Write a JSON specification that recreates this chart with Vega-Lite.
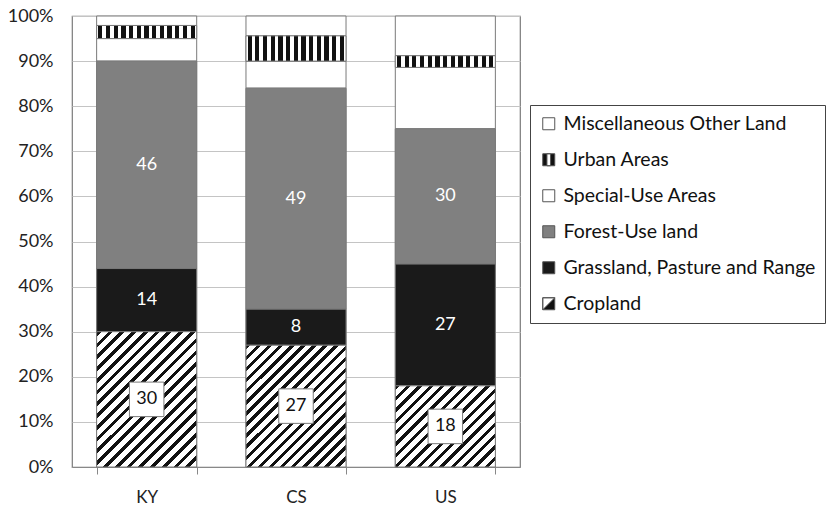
{
  "$schema": "https://vega.github.io/schema/vega-lite/v6.json",
  "width": 448,
  "height": 451,
  "autosize": "none",
  "padding": {"left": 72, "top": 16, "right": 310, "bottom": 38},
  "background": "white",
  "config": {"font": "Lato", "view": {"stroke": "#7a7a7a", "strokeWidth": 1.2}, "axisY": {"labelPadding": 19}},
  "data": {"values": [
    {"site": "KY", "type": "Cropland", "order": 1, "value": 30},
    {"site": "KY", "type": "Grassland, Pasture and Range", "order": 2, "value": 14},
    {"site": "KY", "type": "Forest-Use land", "order": 3, "value": 46},
    {"site": "KY", "type": "Special-Use Areas", "order": 4, "value": 5},
    {"site": "KY", "type": "Urban Areas", "order": 5, "value": 2.9},
    {"site": "KY", "type": "Miscellaneous Other Land", "order": 6, "value": 2.1},
    {"site": "CS", "type": "Cropland", "order": 1, "value": 27},
    {"site": "CS", "type": "Grassland, Pasture and Range", "order": 2, "value": 8},
    {"site": "CS", "type": "Forest-Use land", "order": 3, "value": 49},
    {"site": "CS", "type": "Special-Use Areas", "order": 4, "value": 6},
    {"site": "CS", "type": "Urban Areas", "order": 5, "value": 5.6},
    {"site": "CS", "type": "Miscellaneous Other Land", "order": 6, "value": 4.4},
    {"site": "US", "type": "Cropland", "order": 1, "value": 18},
    {"site": "US", "type": "Grassland, Pasture and Range", "order": 2, "value": 27},
    {"site": "US", "type": "Forest-Use land", "order": 3, "value": 30},
    {"site": "US", "type": "Special-Use Areas", "order": 4, "value": 13.6},
    {"site": "US", "type": "Urban Areas", "order": 5, "value": 2.6},
    {"site": "US", "type": "Miscellaneous Other Land", "order": 6, "value": 8.8}
  ]},
  "transform": [
    {"stack": "value", "groupby": ["site"], "sort": [{"field": "order", "order": "ascending"}], "as": ["v0", "v1"]}
  ],
  "encoding": {
    "x": {
      "field": "site", "type": "nominal", "sort": ["KY", "CS", "US"],
      "scale": {"paddingInner": 0.33, "paddingOuter": 0.165},
      "axis": {"title": null, "labelAngle": 0, "labelFontSize": 17, "labelColor": "#222", "tickBand": "extent", "tickSize": 7, "tickColor": "#888", "domainColor": "#888", "labelPadding": 15, "grid": false}
    }
  },
  "layer": [
    {
      "transform": [
        {"fold": ["v0", "v1"], "as": ["edge", "pos"]},
        {"aggregate": [{"op": "mean", "field": "pos", "as": "mid"}], "groupby": ["site", "type", "value"]}
      ],
      "mark": {"type": "point", "filled": true, "size": 144, "strokeWidth": 1, "opacity": 1, "clip": true},
      "encoding": {
        "y": {"field": "mid", "type": "quantitative", "scale": {"domain": [0, 100], "nice": false},
          "axis": {"title": null, "values": [0, 10, 20, 30, 40, 50, 60, 70, 80, 90, 100], "labelExpr": "datum.value + '%'", "labelFontSize": 18, "labelColor": "#222", "ticks": false, "domain": false, "gridColor": "#c4c4c4", "labelPadding": 19}},
        "fill": {
          "field": "type", "type": "nominal",
          "scale": {
            "domain": ["Miscellaneous Other Land", "Urban Areas", "Special-Use Areas", "Forest-Use land", "Grassland, Pasture and Range", "Cropland"],
            "range": ["#ffffff", "#111111", "#ffffff", "#808080", "#1a1a1a", "#111111"]
          },
          "legend": {
            "title": null, "orient": "none", "legendX": 458, "legendY": 89,
            "symbolSize": 144, "symbolStrokeWidth": 1,
            "labelFontSize": 19.5, "labelColor": "#111", "rowPadding": 15, "padding": 9,
            "strokeColor": "#444", "fillColor": "white", "labelOffset": 5, "labelLimit": 400,
            "labelExpr": "datum.label + '\u00a0\u00a0\u00a0\u00a0\u00a0\u00a0\u00a0\u00a0\u00a0\u00a0\u00a0'"
          }
        },
        "stroke": {
          "field": "type", "type": "nominal",
          "scale": {
            "domain": ["Miscellaneous Other Land", "Urban Areas", "Special-Use Areas", "Forest-Use land", "Grassland, Pasture and Range", "Cropland"],
            "range": ["#555555", "#555555", "#555555", "#555555", "#555555", "#555555"]
          },
          "legend": {
            "title": null, "orient": "none", "legendX": 458, "legendY": 89,
            "symbolSize": 144, "symbolStrokeWidth": 1,
            "labelFontSize": 19.5, "labelColor": "#111", "rowPadding": 15, "padding": 9,
            "strokeColor": "#444", "fillColor": "white", "labelOffset": 5, "labelLimit": 400,
            "labelExpr": "datum.label + '\u00a0\u00a0\u00a0\u00a0\u00a0\u00a0\u00a0\u00a0\u00a0\u00a0\u00a0'"
          }
        },
        "shape": {
          "field": "type", "type": "nominal",
          "scale": {
            "domain": ["Miscellaneous Other Land", "Urban Areas", "Special-Use Areas", "Forest-Use land", "Grassland, Pasture and Range", "Cropland"],
            "range": ["square", "M-1,-1L1,-1L1,1L-1,1ZM-0.3,-1L-0.3,1L0.3,1L0.3,-1Z", "square", "square", "square", "M-1,-1L1,-1L1,1L-1,1ZM-1,-1L-1,1L1,-1Z"]
          },
          "legend": {
            "title": null, "orient": "none", "legendX": 458, "legendY": 89,
            "symbolSize": 144, "symbolStrokeWidth": 1,
            "labelFontSize": 19.5, "labelColor": "#111", "rowPadding": 15, "padding": 9,
            "strokeColor": "#444", "fillColor": "white", "labelOffset": 5, "labelLimit": 400,
            "labelExpr": "datum.label + '\u00a0\u00a0\u00a0\u00a0\u00a0\u00a0\u00a0\u00a0\u00a0\u00a0\u00a0'"
          }
        }
      }
    },
    {
      "mark": {"type": "bar", "stroke": "#7a7a7a", "strokeWidth": 1, "fill": "#ffffff"},
      "encoding": {"y": {"field": "v1", "type": "quantitative"}, "y2": {"field": "v0"}}
    },
    {
      "transform": [{"filter": "datum.type === 'Forest-Use land'"}],
      "mark": {"type": "bar", "stroke": "#7a7a7a", "strokeWidth": 1, "fill": "#808080"},
      "encoding": {"y": {"field": "v1", "type": "quantitative"}, "y2": {"field": "v0"}}
    },
    {
      "transform": [{"filter": "datum.type === 'Grassland, Pasture and Range'"}],
      "mark": {"type": "bar", "stroke": "#7a7a7a", "strokeWidth": 1, "fill": "#1a1a1a"},
      "encoding": {"y": {"field": "v1", "type": "quantitative"}, "y2": {"field": "v0"}}
    },
    {
      "transform": [{"filter": "datum.type === 'Cropland' && datum.site === 'KY'"}],
      "mark": {"type": "bar", "stroke": "#7a7a7a", "strokeWidth": 1,
        "fill": {"gradient": "linear", "x1": 0, "y1": 0, "x2": 0.8313, "y2": 1.1247, "stops": [
          {"offset": 0, "color": "#111"}, {"offset": 0.02, "color": "#111"}, {"offset": 0.02, "color": "#fff"}, {"offset": 0.05, "color": "#fff"},
          {"offset": 0.05, "color": "#111"}, {"offset": 0.07, "color": "#111"}, {"offset": 0.07, "color": "#fff"}, {"offset": 0.1, "color": "#fff"},
          {"offset": 0.1, "color": "#111"}, {"offset": 0.12, "color": "#111"}, {"offset": 0.12, "color": "#fff"}, {"offset": 0.15, "color": "#fff"},
          {"offset": 0.15, "color": "#111"}, {"offset": 0.17, "color": "#111"}, {"offset": 0.17, "color": "#fff"}, {"offset": 0.2, "color": "#fff"},
          {"offset": 0.2, "color": "#111"}, {"offset": 0.22, "color": "#111"}, {"offset": 0.22, "color": "#fff"}, {"offset": 0.25, "color": "#fff"},
          {"offset": 0.25, "color": "#111"}, {"offset": 0.27, "color": "#111"}, {"offset": 0.27, "color": "#fff"}, {"offset": 0.3, "color": "#fff"},
          {"offset": 0.3, "color": "#111"}, {"offset": 0.32, "color": "#111"}, {"offset": 0.32, "color": "#fff"}, {"offset": 0.35, "color": "#fff"},
          {"offset": 0.35, "color": "#111"}, {"offset": 0.37, "color": "#111"}, {"offset": 0.37, "color": "#fff"}, {"offset": 0.4, "color": "#fff"},
          {"offset": 0.4, "color": "#111"}, {"offset": 0.42, "color": "#111"}, {"offset": 0.42, "color": "#fff"}, {"offset": 0.45, "color": "#fff"},
          {"offset": 0.45, "color": "#111"}, {"offset": 0.47, "color": "#111"}, {"offset": 0.47, "color": "#fff"}, {"offset": 0.5, "color": "#fff"},
          {"offset": 0.5, "color": "#111"}, {"offset": 0.52, "color": "#111"}, {"offset": 0.52, "color": "#fff"}, {"offset": 0.55, "color": "#fff"},
          {"offset": 0.55, "color": "#111"}, {"offset": 0.57, "color": "#111"}, {"offset": 0.57, "color": "#fff"}, {"offset": 0.6, "color": "#fff"},
          {"offset": 0.6, "color": "#111"}, {"offset": 0.62, "color": "#111"}, {"offset": 0.62, "color": "#fff"}, {"offset": 0.65, "color": "#fff"},
          {"offset": 0.65, "color": "#111"}, {"offset": 0.67, "color": "#111"}, {"offset": 0.67, "color": "#fff"}, {"offset": 0.7, "color": "#fff"},
          {"offset": 0.7, "color": "#111"}, {"offset": 0.72, "color": "#111"}, {"offset": 0.72, "color": "#fff"}, {"offset": 0.75, "color": "#fff"},
          {"offset": 0.75, "color": "#111"}, {"offset": 0.77, "color": "#111"}, {"offset": 0.77, "color": "#fff"}, {"offset": 0.8, "color": "#fff"},
          {"offset": 0.8, "color": "#111"}, {"offset": 0.82, "color": "#111"}, {"offset": 0.82, "color": "#fff"}, {"offset": 0.85, "color": "#fff"},
          {"offset": 0.85, "color": "#111"}, {"offset": 0.87, "color": "#111"}, {"offset": 0.87, "color": "#fff"}, {"offset": 0.9, "color": "#fff"},
          {"offset": 0.9, "color": "#111"}, {"offset": 0.92, "color": "#111"}, {"offset": 0.92, "color": "#fff"}, {"offset": 0.95, "color": "#fff"},
          {"offset": 0.95, "color": "#111"}, {"offset": 0.97, "color": "#111"}, {"offset": 0.97, "color": "#fff"}, {"offset": 1, "color": "#fff"}
        ]}},
      "encoding": {"y": {"field": "v1", "type": "quantitative"}, "y2": {"field": "v0"}}
    },
    {
      "transform": [{"filter": "datum.type === 'Cropland' && datum.site === 'CS'"}],
      "mark": {"type": "bar", "stroke": "#7a7a7a", "strokeWidth": 1,
        "fill": {"gradient": "linear", "x1": 0, "y1": 0, "x2": 0.8931, "y2": 1.0878, "stops": [
          {"offset": 0, "color": "#111"}, {"offset": 0.02, "color": "#111"}, {"offset": 0.02, "color": "#fff"}, {"offset": 0.05, "color": "#fff"},
          {"offset": 0.05, "color": "#111"}, {"offset": 0.07, "color": "#111"}, {"offset": 0.07, "color": "#fff"}, {"offset": 0.1, "color": "#fff"},
          {"offset": 0.1, "color": "#111"}, {"offset": 0.12, "color": "#111"}, {"offset": 0.12, "color": "#fff"}, {"offset": 0.15, "color": "#fff"},
          {"offset": 0.15, "color": "#111"}, {"offset": 0.17, "color": "#111"}, {"offset": 0.17, "color": "#fff"}, {"offset": 0.2, "color": "#fff"},
          {"offset": 0.2, "color": "#111"}, {"offset": 0.22, "color": "#111"}, {"offset": 0.22, "color": "#fff"}, {"offset": 0.25, "color": "#fff"},
          {"offset": 0.25, "color": "#111"}, {"offset": 0.27, "color": "#111"}, {"offset": 0.27, "color": "#fff"}, {"offset": 0.3, "color": "#fff"},
          {"offset": 0.3, "color": "#111"}, {"offset": 0.32, "color": "#111"}, {"offset": 0.32, "color": "#fff"}, {"offset": 0.35, "color": "#fff"},
          {"offset": 0.35, "color": "#111"}, {"offset": 0.37, "color": "#111"}, {"offset": 0.37, "color": "#fff"}, {"offset": 0.4, "color": "#fff"},
          {"offset": 0.4, "color": "#111"}, {"offset": 0.42, "color": "#111"}, {"offset": 0.42, "color": "#fff"}, {"offset": 0.45, "color": "#fff"},
          {"offset": 0.45, "color": "#111"}, {"offset": 0.47, "color": "#111"}, {"offset": 0.47, "color": "#fff"}, {"offset": 0.5, "color": "#fff"},
          {"offset": 0.5, "color": "#111"}, {"offset": 0.52, "color": "#111"}, {"offset": 0.52, "color": "#fff"}, {"offset": 0.55, "color": "#fff"},
          {"offset": 0.55, "color": "#111"}, {"offset": 0.57, "color": "#111"}, {"offset": 0.57, "color": "#fff"}, {"offset": 0.6, "color": "#fff"},
          {"offset": 0.6, "color": "#111"}, {"offset": 0.62, "color": "#111"}, {"offset": 0.62, "color": "#fff"}, {"offset": 0.65, "color": "#fff"},
          {"offset": 0.65, "color": "#111"}, {"offset": 0.67, "color": "#111"}, {"offset": 0.67, "color": "#fff"}, {"offset": 0.7, "color": "#fff"},
          {"offset": 0.7, "color": "#111"}, {"offset": 0.72, "color": "#111"}, {"offset": 0.72, "color": "#fff"}, {"offset": 0.75, "color": "#fff"},
          {"offset": 0.75, "color": "#111"}, {"offset": 0.77, "color": "#111"}, {"offset": 0.77, "color": "#fff"}, {"offset": 0.8, "color": "#fff"},
          {"offset": 0.8, "color": "#111"}, {"offset": 0.82, "color": "#111"}, {"offset": 0.82, "color": "#fff"}, {"offset": 0.85, "color": "#fff"},
          {"offset": 0.85, "color": "#111"}, {"offset": 0.87, "color": "#111"}, {"offset": 0.87, "color": "#fff"}, {"offset": 0.9, "color": "#fff"},
          {"offset": 0.9, "color": "#111"}, {"offset": 0.92, "color": "#111"}, {"offset": 0.92, "color": "#fff"}, {"offset": 0.95, "color": "#fff"},
          {"offset": 0.95, "color": "#111"}, {"offset": 0.97, "color": "#111"}, {"offset": 0.97, "color": "#fff"}, {"offset": 1, "color": "#fff"}
        ]}},
      "encoding": {"y": {"field": "v1", "type": "quantitative"}, "y2": {"field": "v0"}}
    },
    {
      "transform": [{"filter": "datum.type === 'Cropland' && datum.site === 'US'"}],
      "mark": {"type": "bar", "stroke": "#7a7a7a", "strokeWidth": 1,
        "fill": {"gradient": "linear", "x1": 0, "y1": 0, "x2": 1.092, "y2": 0.8867, "stops": [
          {"offset": 0, "color": "#111"}, {"offset": 0.025, "color": "#111"}, {"offset": 0.025, "color": "#fff"}, {"offset": 0.0625, "color": "#fff"},
          {"offset": 0.0625, "color": "#111"}, {"offset": 0.0875, "color": "#111"}, {"offset": 0.0875, "color": "#fff"}, {"offset": 0.125, "color": "#fff"},
          {"offset": 0.125, "color": "#111"}, {"offset": 0.15, "color": "#111"}, {"offset": 0.15, "color": "#fff"}, {"offset": 0.1875, "color": "#fff"},
          {"offset": 0.1875, "color": "#111"}, {"offset": 0.2125, "color": "#111"}, {"offset": 0.2125, "color": "#fff"}, {"offset": 0.25, "color": "#fff"},
          {"offset": 0.25, "color": "#111"}, {"offset": 0.275, "color": "#111"}, {"offset": 0.275, "color": "#fff"}, {"offset": 0.3125, "color": "#fff"},
          {"offset": 0.3125, "color": "#111"}, {"offset": 0.3375, "color": "#111"}, {"offset": 0.3375, "color": "#fff"}, {"offset": 0.375, "color": "#fff"},
          {"offset": 0.375, "color": "#111"}, {"offset": 0.4, "color": "#111"}, {"offset": 0.4, "color": "#fff"}, {"offset": 0.4375, "color": "#fff"},
          {"offset": 0.4375, "color": "#111"}, {"offset": 0.4625, "color": "#111"}, {"offset": 0.4625, "color": "#fff"}, {"offset": 0.5, "color": "#fff"},
          {"offset": 0.5, "color": "#111"}, {"offset": 0.525, "color": "#111"}, {"offset": 0.525, "color": "#fff"}, {"offset": 0.5625, "color": "#fff"},
          {"offset": 0.5625, "color": "#111"}, {"offset": 0.5875, "color": "#111"}, {"offset": 0.5875, "color": "#fff"}, {"offset": 0.625, "color": "#fff"},
          {"offset": 0.625, "color": "#111"}, {"offset": 0.65, "color": "#111"}, {"offset": 0.65, "color": "#fff"}, {"offset": 0.6875, "color": "#fff"},
          {"offset": 0.6875, "color": "#111"}, {"offset": 0.7125, "color": "#111"}, {"offset": 0.7125, "color": "#fff"}, {"offset": 0.75, "color": "#fff"},
          {"offset": 0.75, "color": "#111"}, {"offset": 0.775, "color": "#111"}, {"offset": 0.775, "color": "#fff"}, {"offset": 0.8125, "color": "#fff"},
          {"offset": 0.8125, "color": "#111"}, {"offset": 0.8375, "color": "#111"}, {"offset": 0.8375, "color": "#fff"}, {"offset": 0.875, "color": "#fff"},
          {"offset": 0.875, "color": "#111"}, {"offset": 0.9, "color": "#111"}, {"offset": 0.9, "color": "#fff"}, {"offset": 0.9375, "color": "#fff"},
          {"offset": 0.9375, "color": "#111"}, {"offset": 0.9625, "color": "#111"}, {"offset": 0.9625, "color": "#fff"}, {"offset": 1, "color": "#fff"}
        ]}},
      "encoding": {"y": {"field": "v1", "type": "quantitative"}, "y2": {"field": "v0"}}
    },
    {
      "transform": [{"filter": "datum.type === 'Urban Areas'"}],
      "mark": {"type": "bar", "stroke": "#7a7a7a", "strokeWidth": 1,
        "fill": {"gradient": "linear", "x1": 0, "y1": 0, "x2": 1, "y2": 0, "stops": [
          {"offset": 0, "color": "#fff"},
          {"offset": 0.01538, "color": "#fff"}, {"offset": 0.01538, "color": "#111"}, {"offset": 0.05769, "color": "#111"}, {"offset": 0.05769, "color": "#fff"},
          {"offset": 0.0923, "color": "#fff"}, {"offset": 0.0923, "color": "#111"}, {"offset": 0.13461, "color": "#111"}, {"offset": 0.13461, "color": "#fff"},
          {"offset": 0.16923, "color": "#fff"}, {"offset": 0.16923, "color": "#111"}, {"offset": 0.21154, "color": "#111"}, {"offset": 0.21154, "color": "#fff"},
          {"offset": 0.24615, "color": "#fff"}, {"offset": 0.24615, "color": "#111"}, {"offset": 0.28846, "color": "#111"}, {"offset": 0.28846, "color": "#fff"},
          {"offset": 0.32307, "color": "#fff"}, {"offset": 0.32307, "color": "#111"}, {"offset": 0.36538, "color": "#111"}, {"offset": 0.36538, "color": "#fff"},
          {"offset": 0.4, "color": "#fff"}, {"offset": 0.4, "color": "#111"}, {"offset": 0.44231, "color": "#111"}, {"offset": 0.44231, "color": "#fff"},
          {"offset": 0.47692, "color": "#fff"}, {"offset": 0.47692, "color": "#111"}, {"offset": 0.51923, "color": "#111"}, {"offset": 0.51923, "color": "#fff"},
          {"offset": 0.55384, "color": "#fff"}, {"offset": 0.55384, "color": "#111"}, {"offset": 0.59615, "color": "#111"}, {"offset": 0.59615, "color": "#fff"},
          {"offset": 0.63076, "color": "#fff"}, {"offset": 0.63076, "color": "#111"}, {"offset": 0.67307, "color": "#111"}, {"offset": 0.67307, "color": "#fff"},
          {"offset": 0.70769, "color": "#fff"}, {"offset": 0.70769, "color": "#111"}, {"offset": 0.75, "color": "#111"}, {"offset": 0.75, "color": "#fff"},
          {"offset": 0.78461, "color": "#fff"}, {"offset": 0.78461, "color": "#111"}, {"offset": 0.82692, "color": "#111"}, {"offset": 0.82692, "color": "#fff"},
          {"offset": 0.86153, "color": "#fff"}, {"offset": 0.86153, "color": "#111"}, {"offset": 0.90384, "color": "#111"}, {"offset": 0.90384, "color": "#fff"},
          {"offset": 0.93846, "color": "#fff"}, {"offset": 0.93846, "color": "#111"}, {"offset": 0.98077, "color": "#111"}, {"offset": 0.98077, "color": "#fff"},
          {"offset": 1, "color": "#fff"}
        ]}},
      "encoding": {"y": {"field": "v1", "type": "quantitative"}, "y2": {"field": "v0"}}
    },
    {
      "transform": [
        {"filter": "datum.type === 'Cropland'"},
        {"fold": ["v0", "v1"], "as": ["edge", "pos"]},
        {"aggregate": [{"op": "mean", "field": "pos", "as": "mid"}], "groupby": ["site", "type", "value"]}
      ],
      "mark": {"type": "square", "size": 1190, "filled": true, "fill": "white", "stroke": "#7a7a7a", "strokeWidth": 1, "opacity": 1},
      "encoding": {"y": {"field": "mid", "type": "quantitative"}}
    },
    {
      "transform": [
        {"filter": "datum.type === 'Cropland'"},
        {"fold": ["v0", "v1"], "as": ["edge", "pos"]},
        {"aggregate": [{"op": "mean", "field": "pos", "as": "mid"}], "groupby": ["site", "type", "value"]}
      ],
      "mark": {"type": "text", "fontSize": 18, "color": "#111", "align": "center", "baseline": "middle"},
      "encoding": {"y": {"field": "mid", "type": "quantitative"}, "text": {"field": "value", "type": "quantitative"}}
    },
    {
      "transform": [
        {"filter": "datum.type === 'Grassland, Pasture and Range' || datum.type === 'Forest-Use land'"},
        {"fold": ["v0", "v1"], "as": ["edge", "pos"]},
        {"aggregate": [{"op": "mean", "field": "pos", "as": "mid"}], "groupby": ["site", "type", "value"]}
      ],
      "mark": {"type": "text", "fontSize": 18, "color": "white", "align": "center", "baseline": "middle"},
      "encoding": {"y": {"field": "mid", "type": "quantitative"}, "text": {"field": "value", "type": "quantitative"}}
    }
  ]
}
